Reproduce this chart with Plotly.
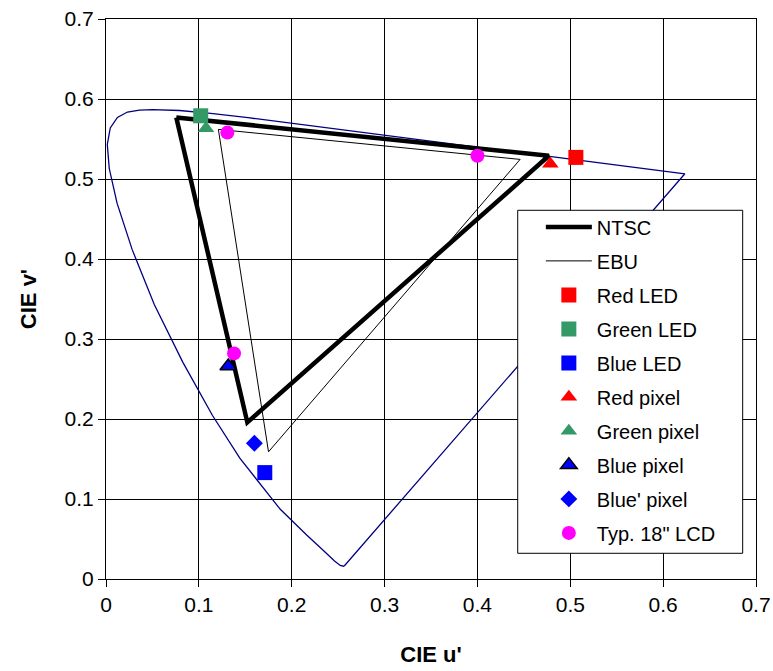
import plotly.graph_objects as go

# Spectral locus (CIE 1976 u', v'), 380 nm -> 700 nm
locus_u = [0.2568, 0.2558, 0.2522, 0.2461, 0.2347, 0.2161, 0.1877, 0.1441, 0.1147, 0.0828,
           0.0521, 0.0282, 0.0119, 0.0035, 0.0014, 0.0046, 0.0123, 0.0231, 0.0360, 0.0501,
           0.0792, 0.1127, 0.1531, 0.2026, 0.2623, 0.3315, 0.4035, 0.4692, 0.5203, 0.5565,
           0.5830, 0.6005, 0.6109, 0.6199, 0.6234, 0.2568]
locus_v = [0.0166, 0.0160, 0.0169, 0.0226, 0.0350, 0.0549, 0.0871, 0.1510, 0.2044, 0.2708,
           0.3427, 0.4117, 0.4698, 0.5131, 0.5432, 0.5638, 0.5770, 0.5837, 0.5861, 0.5868,
           0.5856, 0.5821, 0.5766, 0.5694, 0.5604, 0.5501, 0.5393, 0.5296, 0.5219, 0.5165,
           0.5125, 0.5099, 0.5084, 0.5070, 0.5065, 0.0166]

ntsc_u = [0.0757, 0.4769, 0.1522, 0.0757]
ntsc_v = [0.5770, 0.5290, 0.1957, 0.5770]

ebu_u = [0.1210, 0.4460, 0.1750, 0.1210]
ebu_v = [0.5620, 0.5245, 0.1590, 0.5620]

red_led = ([0.506], [0.527])
green_led = ([0.102], [0.579])
blue_led = ([0.171], [0.133])
red_pixel = ([0.4785], [0.519])
green_pixel = ([0.1077], [0.5634])
blue_pixel = ([0.1317], [0.266])
bluep_pixel = ([0.1598], [0.1696])
lcd_u = [0.1307, 0.400, 0.1379]
lcd_v = [0.558, 0.529, 0.282]

fig = go.Figure()
fig.add_trace(go.Scatter(x=locus_u, y=locus_v, mode="lines",
                         line=dict(color="#000080", width=1.3), showlegend=False,
                         hoverinfo="skip"))
fig.add_trace(go.Scatter(x=ntsc_u, y=ntsc_v, mode="lines", name="NTSC",
                         line=dict(color="black", width=4.5), legendgroup="a"))
fig.add_trace(go.Scatter(x=ebu_u, y=ebu_v, mode="lines", name="EBU",
                         line=dict(color="black", width=1), legendgroup="b"))

def mk(xy, name, sym, color, size, grp, outline=None):
    line = dict(color=outline, width=1.5) if outline else dict(width=0)
    fig.add_trace(go.Scatter(x=xy[0], y=xy[1], mode="markers", name=name, legendgroup=grp,
                             marker=dict(symbol=sym, color=color, size=size, line=line)))

mk(red_led, "Red LED", "square", "#FF0000", 15, "c")
mk(green_led, "Green LED", "square", "#339966", 15, "d")
mk(blue_led, "Blue LED", "square", "#0000FF", 15, "e")
mk(red_pixel, "Red pixel", "triangle-up", "#FF0000", 14.5, "f")
mk(green_pixel, "Green pixel", "triangle-up", "#339966", 14.5, "g")
mk(blue_pixel, "Blue pixel", "triangle-up", "#0000FF", 14.5, "h", outline="black")
mk(bluep_pixel, "Blue' pixel", "diamond", "#0000FF", 13, "i")
mk((lcd_u, lcd_v), 'Typ. 18" LCD', "circle", "#FF00FF", 14, "j")

axis_common = dict(range=[0, 0.7], dtick=0.1, tick0=0, showgrid=True, gridcolor="black",
                   gridwidth=1, showline=True, linecolor="black", linewidth=1, mirror=True,
                   ticks="outside", ticklen=7, tickcolor="black", zeroline=False,
                   automargin=False,
                   tickfont=dict(family="Liberation Sans, Arial", size=21, color="black"))

fig.update_layout(
    width=773, height=671,
    margin=dict(l=106, r=17, t=19, b=92, autoexpand=False),
    paper_bgcolor="white", plot_bgcolor="white",
    xaxis=dict(title=dict(text="CIE u'", standoff=31,
                          font=dict(family="Liberation Sans, Arial", size=22, color="black",
                                    weight="bold")), **axis_common),
    yaxis=dict(title=dict(text="CIE v'", standoff=21,
                          font=dict(family="Liberation Sans, Arial", size=22, color="black",
                                    weight="bold")), **axis_common),
    legend=dict(x=0.669, y=0.6636, xanchor="left", yanchor="top",
                bgcolor="rgba(0,0,0,0)", borderwidth=0, itemwidth=46,
                tracegroupgap=5,
                font=dict(family="Liberation Sans, Arial", size=20, color="black")),
    shapes=[dict(type="rect", xref="paper", yref="paper", x0=0.6334, x1=0.9795,
                 y0=0.0459, y1=0.6584, fillcolor="white", line=dict(color="black", width=1),
                 layer="above")],
    showlegend=True,
)

fig.write_html("out.html")
